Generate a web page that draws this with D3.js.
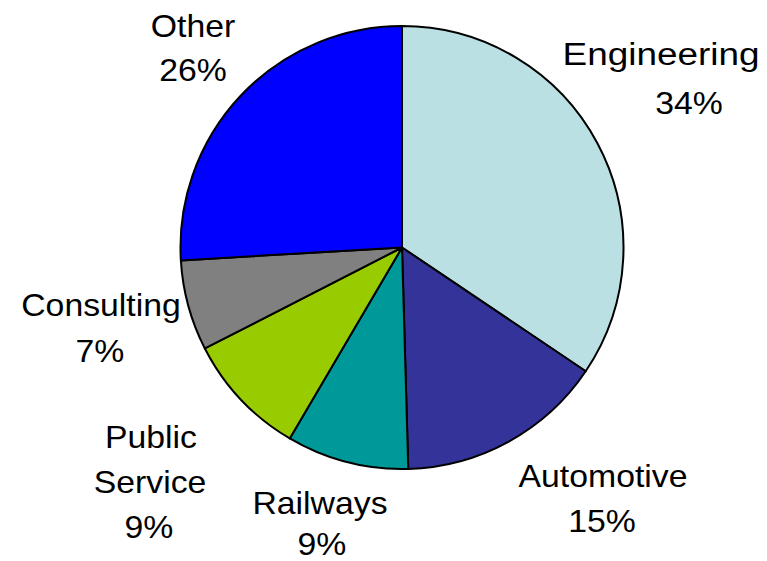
<!DOCTYPE html>
<html>
<head>
<meta charset="utf-8">
<script src="https://cdn.jsdelivr.net/npm/d3@7"></script>
<style>
html,body{margin:0;padding:0;background:#fff;}
svg{display:block;}
text{font-family:Arial,"Liberation Sans",sans-serif;fill:#000;}
</style>
</head>
<body>
<svg id="chart" width="767" height="561"></svg>
<script>
// Data
const categories = ["Engineering", "Automotive", "Railways", "Public Service", "Consulting", "Other"];
const shares = [34.4, 15.1, 8.9, 9.0, 6.6, 25.9];
const colors = ["#BBE0E3", "#333399", "#009999", "#99CC00", "#808080", "#0000FF"];

// Label layout (line centres / baselines / horizontal stretch), separate from data
const labelLines = [
  [{x:661, y:65, s:1.19}, {x:689, y:114, s:1.09}],
  [{x:603, y:487, s:1.09}, {x:602, y:532, s:1.09}],
  [{x:320, y:514, s:1.09}, {x:322, y:555, s:1.09}],
  [{x:151, y:448, s:1.09}, {x:150, y:493, s:1.09}, {x:149, y:538, s:1.09}],
  [{x:101, y:316, s:1.09}, {x:100, y:362, s:1.09}],
  [{x:193, y:37, s:1.09}, {x:193, y:81, s:1.09}]
];

const svg = d3.select("#chart");
const cx = 402, cy = 247.5, r = 221.5;
const total = d3.sum(shares);
const data = categories.map((c, i) => ({name: c, value: shares[i], color: colors[i], idx: i}));

const pie = d3.pie().value(d => d.value).sort(null).startAngle(0).endAngle(2 * Math.PI);
const arc = d3.arc().innerRadius(0).outerRadius(r);

const g = svg.append("g").attr("transform", `translate(${cx},${cy})`);
g.selectAll("path").data(pie(data)).join("path")
  .attr("d", arc)
  .attr("fill", d => d.data.color)
  .attr("stroke", "#000")
  .attr("stroke-width", 2)
  .attr("stroke-linejoin", "round");

const fmt = v => Math.round(v / total * 100) + "%";
data.forEach((d, i) => {
  const words = d.name === "Public Service" ? ["Public", "Service"] : [d.name];
  const lines = words.concat([fmt(d.value)]);
  lines.forEach((t, j) => {
    const p = labelLines[i][j];
    svg.append("text")
      .attr("transform", `translate(${p.x},${p.y}) scale(${p.s},1)`)
      .attr("text-anchor", "middle")
      .attr("font-size", 31)
      .text(t);
  });
});
</script>
</body>
</html>
